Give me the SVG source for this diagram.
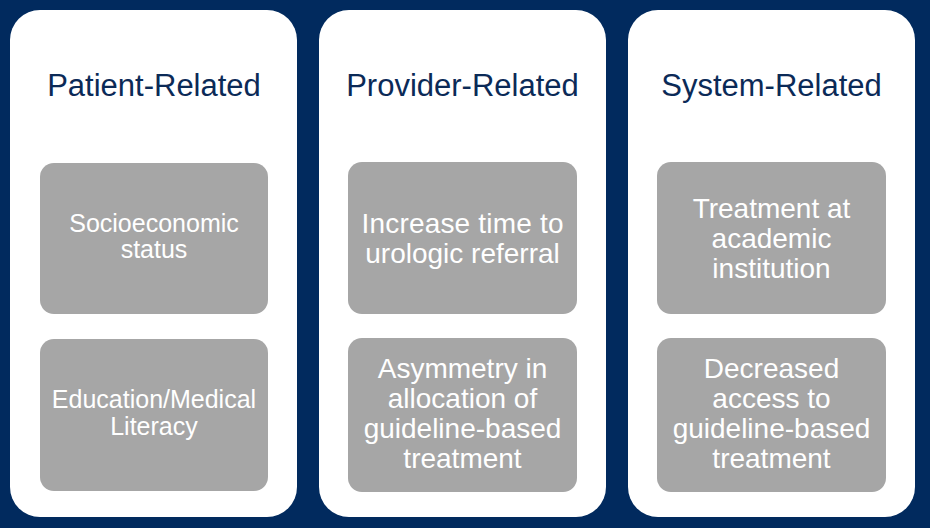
<svg xmlns="http://www.w3.org/2000/svg" width="930" height="528" viewBox="0 0 930 528">
<style>
.panel{fill:#ffffff}
.box{fill:#a6a6a6}
.title{font-family:"Liberation Sans",Arial,sans-serif;font-size:31px;fill:#0b2a57;text-anchor:middle}
.t{font-family:"Liberation Sans",Arial,sans-serif;font-size:28px;fill:#ffffff;text-anchor:middle}
.ts{font-family:"Liberation Sans",Arial,sans-serif;font-size:25px;fill:#ffffff;text-anchor:middle}
</style>
<rect x="0" y="0" width="930" height="528" fill="#012a5e"/>
<g id="patient">
<rect class="panel" x="10" y="10" width="287" height="507" rx="30"/>
<text class="title" x="154" y="96">Patient-Related</text>
</g>
<g id="provider">
<rect class="panel" x="319" y="10" width="287" height="507" rx="30"/>
<text class="title" x="462.5" y="96">Provider-Related</text>
</g>
<g id="system">
<rect class="panel" x="628" y="10" width="287" height="507" rx="30"/>
<text class="title" x="771.5" y="96">System-Related</text>
</g>
<g id="socioeconomic">
<rect class="box" x="40" y="163" width="228" height="151" rx="14"/>
<text class="ts" x="154" y="232">Socioeconomic</text>
<text class="ts" x="154" y="258">status</text>
</g>
<g id="education">
<rect class="box" x="40" y="339" width="228" height="152" rx="14"/>
<text class="ts" x="154" y="408">Education/Medical</text>
<text class="ts" x="154" y="435">Literacy</text>
</g>
<g id="referral">
<rect class="box" x="348" y="162" width="229" height="152" rx="14"/>
<text class="t" x="462.5" y="233" textLength="202" lengthAdjust="spacing">Increase time to</text>
<text class="t" x="462.5" y="263">urologic referral</text>
</g>
<g id="asymmetry">
<rect class="box" x="348" y="338" width="229" height="154" rx="14"/>
<text class="t" x="462.5" y="378">Asymmetry in</text>
<text class="t" x="462.5" y="408">allocation of</text>
<text class="t" x="462.5" y="438">guideline-based</text>
<text class="t" x="462.5" y="468">treatment</text>
</g>
<g id="academic">
<rect class="box" x="657" y="162" width="229" height="152" rx="14"/>
<text class="t" x="771.5" y="218">Treatment at</text>
<text class="t" x="771.5" y="248">academic</text>
<text class="t" x="771.5" y="278">institution</text>
</g>
<g id="access">
<rect class="box" x="657" y="338" width="229" height="154" rx="14"/>
<text class="t" x="771.5" y="378">Decreased</text>
<text class="t" x="771.5" y="408">access to</text>
<text class="t" x="771.5" y="438">guideline-based</text>
<text class="t" x="771.5" y="468">treatment</text>
</g>
<g id="connectors"></g>
</svg>
